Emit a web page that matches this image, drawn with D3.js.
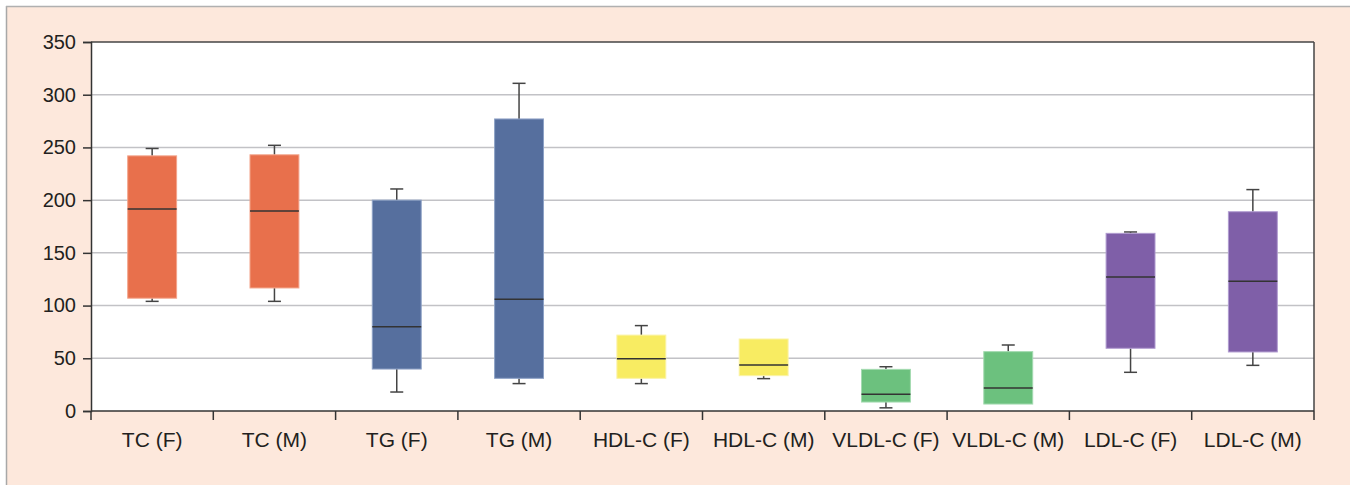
<!DOCTYPE html>
<html><head><meta charset="utf-8">
<script src="https://cdn.jsdelivr.net/npm/d3@7"></script>
<style>html,body{margin:0;padding:0;background:#fff;}svg{display:block;}</style>
</head><body>
<svg id="chart" width="1350" height="485"></svg>
<script>
const categories = ["TC (F)","TC (M)","TG (F)","TG (M)","HDL-C (F)","HDL-C (M)","VLDL-C (F)","VLDL-C (M)","LDL-C (F)","LDL-C (M)"];
const whiskerLow  = [104, 104, 18, 26, 26, 30.7, 3, 6.6, 36.7, 43.3];
const q1          = [107, 116.7, 39.8, 31, 31, 33.5, 8.5, 6.6, 59.5, 56];
const median      = [191.5, 189.7, 80, 106, 49.6, 43.6, 16, 21.8, 127, 123];
const q3          = [242, 243, 200, 277, 72, 68.3, 39.5, 56.3, 168.5, 189];
const whiskerHigh = [249, 252, 210.6, 310.8, 81, 68.3, 42, 62.6, 169.8, 210];
const yTicks = [0, 50, 100, 150, 200, 250, 300, 350];
const groupColors = ["#e8704c","#e8704c","#566f9e","#566f9e","#f8ec62","#f8ec62","#6cc17e","#6cc17e","#7f5fa8","#7f5fa8"];
const groupStroke = ["#f3a58c","#f3a58c","#8ea2c6","#8ea2c6","#fbf3a6","#fbf3a6","#a3dab0","#a3dab0","#b09bd0","#b09bd0"];

const svg = d3.select("#chart");
// panel
svg.append("rect").attr("x",6).attr("y",6).attr("width",1344).attr("height",479)
  .attr("fill","#fde8dc");
svg.append("line").attr("x1",6.5).attr("x2",6.5).attr("y1",6).attr("y2",485).attr("stroke","#a8a8a8").attr("stroke-width",1.5);
svg.append("line").attr("x1",6).attr("x2",1350).attr("y1",6.5).attr("y2",6.5).attr("stroke","#b0b0b0").attr("stroke-width",1.5);

const L = 91, R = 1314, T = 42, B = 411;
const x = d3.scaleBand().domain(categories).range([L, R]).paddingInner(0).paddingOuter(0);
const y = d3.scaleLinear().domain([0, 350]).range([B, T]);

svg.append("rect").attr("x",L).attr("y",T).attr("width",R-L).attr("height",B-T).attr("fill","#fff");

// gridlines
svg.append("g").selectAll("line").data(yTicks.filter(d=>d>0 && d<350)).join("line")
  .attr("x1",L).attr("x2",R).attr("y1",d=>y(d)).attr("y2",d=>y(d))
  .attr("stroke","#c2c2c6").attr("stroke-width",1.5);

// boxes
const idx = d3.range(categories.length);
const bw = x.bandwidth()*0.4;
const g = svg.append("g");
idx.forEach(i=>{
  const cx = x(categories[i]) + x.bandwidth()/2;
  if (whiskerHigh[i] > q3[i]) {
    g.append("line").attr("x1",cx).attr("x2",cx).attr("y1",y(q3[i])).attr("y2",y(whiskerHigh[i])).attr("stroke","#444").attr("stroke-width",1.5);
    g.append("line").attr("x1",cx-6.5).attr("x2",cx+6.5).attr("y1",y(whiskerHigh[i])).attr("y2",y(whiskerHigh[i])).attr("stroke","#444").attr("stroke-width",1.5);
  }
  if (whiskerLow[i] < q1[i]) {
    g.append("line").attr("x1",cx).attr("x2",cx).attr("y1",y(q1[i])).attr("y2",y(whiskerLow[i])).attr("stroke","#444").attr("stroke-width",1.5);
    g.append("line").attr("x1",cx-6.5).attr("x2",cx+6.5).attr("y1",y(whiskerLow[i])).attr("y2",y(whiskerLow[i])).attr("stroke","#444").attr("stroke-width",1.5);
  }
  g.append("rect").attr("x",cx-bw/2).attr("y",y(q3[i])).attr("width",bw).attr("height",y(q1[i])-y(q3[i]))
    .attr("fill",groupColors[i]).attr("stroke",groupStroke[i]).attr("stroke-width",1);
  g.append("line").attr("x1",cx-bw/2).attr("x2",cx+bw/2).attr("y1",y(median[i])).attr("y2",y(median[i]))
    .attr("stroke","#333").attr("stroke-width",1.5);
});

// plot border top/right
svg.append("line").attr("x1",L).attr("x2",R).attr("y1",T).attr("y2",T).attr("stroke","#444").attr("stroke-width",1.5);
svg.append("line").attr("x1",R).attr("x2",R).attr("y1",T).attr("y2",B).attr("stroke","#444").attr("stroke-width",1.5);

// y axis
const yAxis = svg.append("g").attr("transform",`translate(${L},0)`)
  .call(d3.axisLeft(y).tickValues(yTicks).tickSize(8).tickPadding(7));
yAxis.select(".domain").attr("stroke","#333").attr("stroke-width",1.5);
yAxis.selectAll(".tick line").attr("stroke","#333").attr("stroke-width",1.5);
yAxis.selectAll("text").attr("font-family","Liberation Sans, Arial, sans-serif").attr("font-size",20).attr("fill","#231f20");

// x axis
const xAxis = svg.append("g").attr("transform",`translate(0,${B})`)
  .call(d3.axisBottom(x).tickSize(0).tickPadding(21));
xAxis.select(".domain").remove();
svg.append("line").attr("x1",L).attr("x2",R).attr("y1",B).attr("y2",B).attr("stroke","#333").attr("stroke-width",1.5);
const bounds = categories.map(c=>x(c)).concat([R]);
svg.append("g").selectAll("line").data(bounds).join("line")
  .attr("x1",d=>d).attr("x2",d=>d).attr("y1",B).attr("y2",B+9).attr("stroke","#333").attr("stroke-width",1.5);
xAxis.selectAll("text").attr("font-family","Liberation Sans, Arial, sans-serif").attr("font-size",21).attr("fill","#231f20");
</script>
</body></html>
